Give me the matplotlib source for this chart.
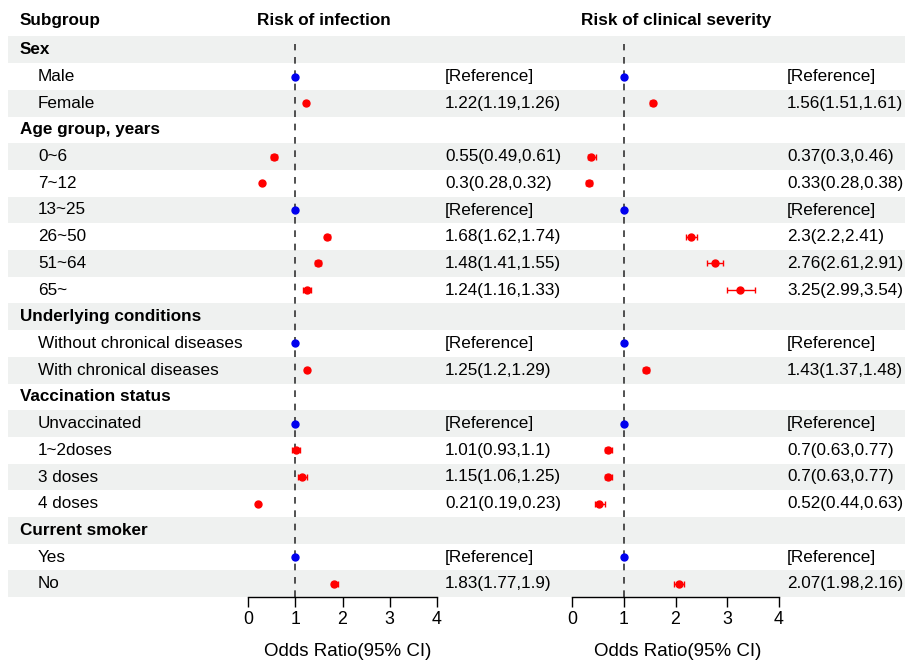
import matplotlib
matplotlib.use("Agg")
import matplotlib.pyplot as plt

plt.rcParams['font.family'] = ['Liberation Sans', 'DejaVu Sans']

# ---------------- data ----------------
labels = ["Sex", "Male", "Female",
          "Age group, years", "0~6", "7~12", "13~25", "26~50", "51~64", "65~",
          "Underlying conditions", "Without chronical diseases", "With chronical diseases",
          "Vaccination status", "Unvaccinated", "1~2doses", "3 doses", "4 doses",
          "Current smoker", "Yes", "No"]
is_header = [True, False, False,
             True, False, False, False, False, False, False,
             True, False, False,
             True, False, False, False, False,
             True, False, False]
# None = header row, "ref" = reference group
inf_or = [None, "ref", 1.22, None, 0.55, 0.3, "ref", 1.68, 1.48, 1.24,
          None, "ref", 1.25, None, "ref", 1.01, 1.15, 0.21, None, "ref", 1.83]
inf_lo = [None, None, 1.19, None, 0.49, 0.28, None, 1.62, 1.41, 1.16,
          None, None, 1.2, None, None, 0.93, 1.06, 0.19, None, None, 1.77]
inf_hi = [None, None, 1.26, None, 0.61, 0.32, None, 1.74, 1.55, 1.33,
          None, None, 1.29, None, None, 1.1, 1.25, 0.23, None, None, 1.9]
sev_or = [None, "ref", 1.56, None, 0.37, 0.33, "ref", 2.3, 2.76, 3.25,
          None, "ref", 1.43, None, "ref", 0.7, 0.7, 0.52, None, "ref", 2.07]
sev_lo = [None, None, 1.51, None, 0.3, 0.28, None, 2.2, 2.61, 2.99,
          None, None, 1.37, None, None, 0.63, 0.63, 0.44, None, None, 1.98]
sev_hi = [None, None, 1.61, None, 0.46, 0.38, None, 2.41, 2.91, 3.54,
          None, None, 1.48, None, None, 0.77, 0.77, 0.63, None, None, 2.16]
xticks = [0, 1, 2, 3, 4]
panel_titles = ["Risk of infection", "Risk of clinical severity"]
xlabel = "Odds Ratio(95% CI)"

# ---------------- layout ----------------
W, H = 905, 661
fig = plt.figure(figsize=(W / 100, H / 100), dpi=100)
bg = fig.add_axes([0, 0, 1, 1])
bg.set_xlim(0, W)
bg.set_ylim(H, 0)
bg.axis("off")

row0 = 49.8
rh = 26.7
n = len(labels)
band_color = "#eff1f0"
FS = 12.3

for i in range(n):
    yc = row0 + i * rh
    if i % 2 == 0:
        bg.add_patch(plt.Rectangle((8, yc - rh / 2), W - 8, rh, color=band_color, lw=0, zorder=0))
    if is_header[i]:
        bg.text(20, yc, labels[i], fontsize=FS, fontweight="bold", va="center", ha="left")
    else:
        bg.text(38, yc, labels[i], fontsize=FS, va="center", ha="left")

bg.text(20, 20.5, "Subgroup", fontsize=FS, fontweight="bold", va="center", ha="left")


def fmt(v):
    return f"{v:g}"


def est_text(o, lo, hi):
    if o is None:
        return ""
    if o == "ref":
        return "[Reference]"
    return f"{fmt(o)}({fmt(lo)},{fmt(hi)})"


panels = [
    (inf_or, inf_lo, inf_hi, 248, 437, 445, 324, 348),
    (sev_or, sev_lo, sev_hi, 572, 779, 787, 676, 678),
]

top_px, bot_px = 36, 597
for k, (ors, los, his, x0, x4, tx, title_x, xl_x) in enumerate(panels):
    ax = fig.add_axes([x0 / W, 1 - bot_px / H, (x4 - x0) / W, (bot_px - top_px) / H])
    ax.patch.set_alpha(0)
    ax.set_xlim(0, 4)
    ax.set_ylim((bot_px - row0) / rh, (top_px - row0) / rh)
    for s in ["top", "right", "left"]:
        ax.spines[s].set_visible(False)
    ax.spines["bottom"].set_linewidth(1.0)
    ax.set_yticks([])
    ax.set_xticks(xticks)
    ax.tick_params(axis="x", length=7, width=1.0, labelsize=12.8, pad=3)
    ax.axvline(1, ymax=0.985, color="#333333", ls=(0, (4, 4)), lw=1.2, zorder=1)
    for i in range(n):
        o = ors[i]
        yc = row0 + i * rh
        if o == "ref":
            ax.plot(1, i, "o", color="#0000ee", ms=5, zorder=3, clip_on=False)
        elif o is not None:
            ax.errorbar(o, i, xerr=[[o - los[i]], [his[i] - o]], fmt="o", color="#ff0000",
                        ms=5, elinewidth=1.0, capsize=2.5, capthick=1.0, zorder=3, clip_on=False)
        bg.text(tx, yc, est_text(o, los[i], his[i]), fontsize=FS, va="center", ha="left")
    bg.text(title_x, 20.5, panel_titles[k], fontsize=FS, fontweight="bold", va="center", ha="center")
    bg.text(xl_x, 652, xlabel, fontsize=13.5, va="center", ha="center")

fig.savefig("out.png", dpi=100)
